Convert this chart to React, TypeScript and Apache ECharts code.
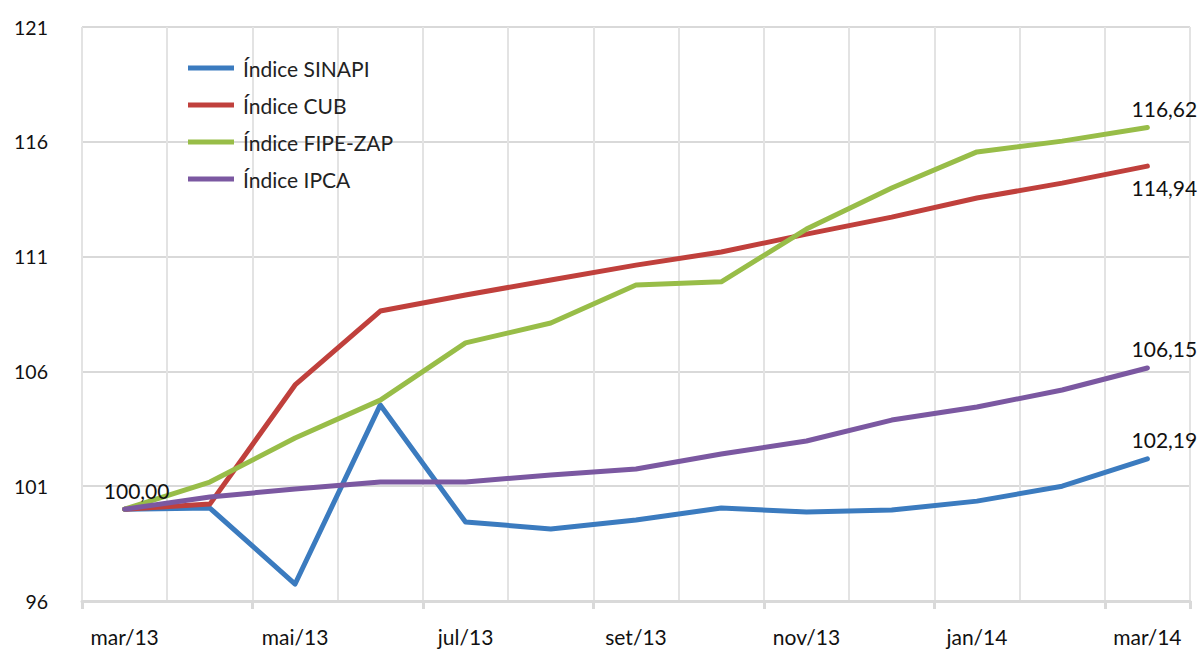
import React, { useEffect, useRef } from "react";
import * as echarts from "echarts";

const categories = ["mar/13", "abr/13", "mai/13", "jun/13", "jul/13", "ago/13", "set/13", "out/13", "nov/13", "dez/13", "jan/14", "fev/14", "mar/14"];
const sinapi = [100.0, 100.05, 96.74, 104.54, 99.44, 99.14, 99.53, 100.05, 99.88, 99.96, 100.35, 101.0, 102.19];
const cub = [100.0, 100.22, 105.41, 108.63, 109.33, 109.98, 110.63, 111.2, 111.98, 112.72, 113.55, 114.2, 114.94];
const fipezap = [100.0, 101.18, 103.1, 104.75, 107.24, 108.11, 109.76, 109.9, 112.2, 113.99, 115.56, 116.03, 116.62];
const ipca = [100.0, 100.53, 100.88, 101.18, 101.18, 101.49, 101.75, 102.4, 102.97, 103.88, 104.45, 105.19, 106.15];

const names = ["Índice SINAPI", "Índice CUB", "Índice FIPE-ZAP", "Índice IPCA"];
const colors = ["#3b7bbf", "#c0403c", "#98bd48", "#7b58a1"];

const FONT = "Lato";

const fmt = (v: number) => v.toFixed(2).replace(".", ",");

function withLabels(values: number[], endPos: "top" | "bottom", showFirst: boolean) {
  return values.map((v, i) => {
    if (i === values.length - 1) {
      return {
        value: v,
        label: {
          show: true,
          position: endPos,
          distance: endPos === "top" ? 9 : 11,
          offset: [17, 0],
          formatter: () => fmt(v),
        },
      };
    }
    if (i === 0 && showFirst) {
      return {
        value: v,
        label: { show: true, position: "top", distance: 8, offset: [12, 0], formatter: () => fmt(v) },
      };
    }
    return v;
  });
}

export default function App() {
  const ref = useRef<HTMLDivElement>(null);
  useEffect(() => {
    if (!ref.current) return;
    const chart = echarts.init(ref.current, undefined, { renderer: "svg" });
    const seriesData = [
      withLabels(sinapi, "top", false),
      withLabels(cub, "bottom", false),
      withLabels(fipezap, "top", false),
      withLabels(ipca, "top", true),
    ];
    chart.setOption({
      animation: false,
      backgroundColor: "#ffffff",
      grid: { left: 82, right: 14, top: 27, bottom: 54, containLabel: false },
      legend: {
        orient: "vertical",
        left: 183,
        top: 51,
        itemWidth: 46,
        itemHeight: 5,
        itemGap: 13,
        icon: "rect",
        textStyle: { fontFamily: FONT, fontSize: 21, color: "#222", lineHeight: 24, padding: [0, 0, 0, 4] },
        data: names,
      },
      xAxis: {
        type: "category",
        data: categories,
        boundaryGap: true,
        axisLine: { show: true, lineStyle: { color: "#d9d9d9", width: 3 } },
        axisTick: { show: true, interval: 1, length: 8, lineStyle: { color: "#d9d9d9", width: 3 } },
        axisLabel: { interval: 1, margin: 25, fontFamily: FONT, fontSize: 21, color: "#111" },
        splitLine: { show: true, interval: 0, lineStyle: { color: "#e3e3e3", width: 2 } },
      },
      yAxis: {
        type: "value",
        min: 96,
        max: 121,
        interval: 5,
        axisLine: { show: false },
        axisTick: { show: false },
        axisLabel: { margin: 34, fontFamily: FONT, fontSize: 19.5, color: "#111" },
        splitLine: { show: true, lineStyle: { color: "#d9d9d9", width: 2 } },
      },
      series: names.map((n, i) => ({
        name: n,
        type: "line",
        data: seriesData[i],
        symbol: "circle",
        symbolSize: 0,
        showSymbol: true,
        color: colors[i],
        itemStyle: { color: colors[i] },
        lineStyle: { width: 5, color: colors[i], cap: "round", join: "round" },
        label: { fontFamily: FONT, fontSize: 21, color: "#111" },
        z: 2 + i,
      })),
    });
    return () => chart.dispose();
  }, []);
  return <div ref={ref} style={{ position: "fixed", left: 0, top: 0, width: 1204, height: 655 }} />;
}
